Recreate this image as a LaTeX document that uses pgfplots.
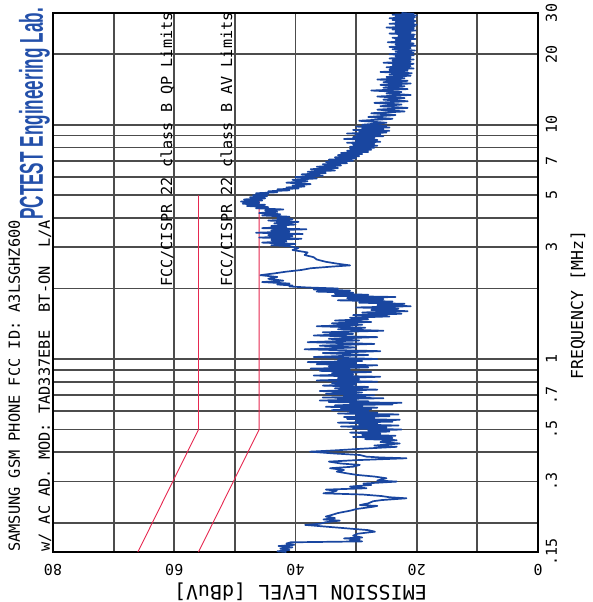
\documentclass[border=0pt]{standalone}
\usepackage{pgfplots}
\pgfplotsset{compat=1.18}
\usepackage{fontspec}
\setmainfont{DejaVu Sans Mono}
\newfontfamily\pcfont[FakeStretch=0.52]{Liberation Sans}
\definecolor{trace}{RGB}{25,70,160}
\definecolor{pcblue}{RGB}{35,80,170}
\definecolor{limred}{RGB}{230,40,80}
\pgfplotstableread{
f L
0.150 41.5
0.151 43.0
0.153 41.0
0.155 42.5
0.157 40.5
0.159 42.8
0.161 40.2
0.163 41.5
0.165 40.8
0.1665 29.0
0.168 31.0
0.170 29.4
0.1715 32.0
0.173 29.0
0.176 30.5
0.1795 29.8
0.1832 26.9
0.186 28.0
0.1958 38.4
0.198 36.0
0.2010 35.0
0.2042 32.7
0.2065 35.4
0.2094 33.5
0.2125 35.0
0.216 34.0
0.2200 33.0
0.2251 31.0
0.2290 29.9
0.2340 27.2
0.2360 26.5
0.2379 29.4
0.242 28.0
0.2470 27.2
0.2499 25.8
0.2543 21.7
0.2570 24.5
0.2600 25.8
0.2640 29.0
0.2670 35.4
0.2700 34.0
0.2742 33.2
0.2770 35.0
0.2807 28.3
0.2854 31.0
0.2900 27.5
0.2940 28.8
0.2997 23.3
0.303 26.5
0.3097 25.0
0.315 27.0
0.3201 29.9
0.325 31.5
0.3308 33.2
0.336 32.0
0.3418 34.3
0.347 30.5
0.3531 29.4
0.358 32.5
0.3648 34.5
0.370 30.0
0.3769 21.7
0.380 26.0
0.3830 28.3
0.3893 29.4
0.395 33.5
0.4022 37.6
0.408 33.0
0.414 29.0
0.4218 23.3
0.427 27.0
0.4358 22.8
0.442 26.0
0.4503 23.3
0.455 28.5
0.46 24.0
0.465 30.5
0.47 23.5
0.475 29.0
0.48 26.0
0.485 31.0
0.49 24.5
0.495 28.0
0.50 22.5
0.505 30.5
0.51 25.0
0.515 32.5
0.52 23.0
0.525 29.5
0.53 26.5
0.535 33.0
0.54 24.0
0.545 30.0
0.55 22.8
0.555 31.5
0.56 27.0
0.565 32.0
0.57 24.5
0.575 30.0
0.58 23.0
0.585 33.0
0.59 26.5
0.595 31.0
0.60 28.0
0.605 34.0
0.61 27.5
0.615 32.5
0.62 26.5
0.625 35.0
0.63 29.0
0.635 33.5
0.64 24.0
0.645 31.0
0.65 22.5
0.655 34.5
0.66 28.0
0.665 36.0
0.67 30.0
0.675 33.0
0.68 25.5
0.685 35.5
0.69 28.5
0.695 32.0
0.70 27.0
0.71 35.0
0.72 29.0
0.73 36.0
0.74 26.5
0.75 33.5
0.76 28.0
0.77 35.5
0.78 30.0
0.79 34.0
0.80 26.5
0.81 36.5
0.82 29.5
0.83 33.0
0.84 26.0
0.85 37.0
0.86 30.5
0.87 34.0
0.88 27.5
0.89 36.0
0.90 31.0
0.91 37.5
0.92 28.0
0.93 34.5
0.94 26.5
0.95 36.5
0.96 30.0
0.97 38.0
0.98 29.0
0.99 33.0
1.00 26.5
1.02 37.0
1.04 28.0
1.06 35.5
1.08 26.0
1.10 38.5
1.12 30.0
1.14 36.0
1.16 27.0
1.18 38.0
1.20 29.5
1.22 34.5
1.24 26.5
1.26 37.0
1.28 30.5
1.30 35.5
1.32 25.5
1.34 33.0
1.36 28.5
1.38 36.5
1.40 29.0
1.42 34.0
1.44 27.5
1.46 33.5
1.48 28.0
1.50 31.0
1.52 24.5
1.54 30.5
1.56 22.5
1.58 29.0
1.60 21.5
1.62 27.5
1.64 23.0
1.66 30.0
1.68 21.0
1.70 26.5
1.72 22.0
1.74 29.5
1.76 24.0
1.78 33.0
1.80 25.5
1.82 31.5
1.84 23.5
1.86 34.0
1.88 28.0
1.90 33.5
1.92 30.5
1.94 36.5
1.96 31.0
1.98 37.0
2.00 33.0
2.02 38.0
2.04 41.0
2.06 40.5
2.08 43.0
2.10 41.0
2.13 45.5
2.16 42.0
2.20 44.5
2.24 43.0
2.28 45.8
2.32 43.5
2.36 41.5
2.40 39.0
2.44 37.5
2.48 34.0
2.51 31.0
2.55 33.0
2.60 35.0
2.66 36.5
2.72 37.0
2.78 38.5
2.85 38.0
2.92 40.5
2.98 39.5
3.03 41.0
3.06 44.0
3.10 40.0
3.14 45.5
3.18 41.5
3.22 44.0
3.26 39.0
3.30 46.0
3.34 40.5
3.38 44.5
3.42 38.8
3.46 46.5
3.50 41.0
3.54 44.0
3.58 38.2
3.62 45.5
3.66 41.5
3.70 44.0
3.75 40.0
3.80 43.5
3.85 39.5
3.90 44.5
3.95 40.5
4.00 43.0
4.05 41.0
4.10 45.5
4.15 42.5
4.20 46.0
4.25 43.0
4.30 45.0
4.35 42.0
4.40 46.5
4.45 44.5
4.50 48.0
4.55 45.0
4.60 48.7
4.65 46.0
4.70 49.0
4.75 45.5
4.80 48.5
4.85 45.0
4.90 47.5
4.95 44.7
5.00 47.0
5.05 44.5
5.10 46.5
5.15 43.0
5.20 44.5
5.25 41.0
5.30 43.0
5.35 39.5
5.40 41.5
5.45 38.5
5.50 40.5
5.58 37.5
5.66 41.5
5.74 38.0
5.82 40.5
5.90 36.5
5.98 40.0
6.06 35.5
6.14 39.0
6.22 35.0
6.30 38.0
6.38 33.5
6.46 37.5
6.54 33.0
6.62 36.5
6.70 32.5
6.78 35.5
6.86 31.5
6.94 35.0
7.02 30.5
7.10 34.5
7.18 30.0
7.26 33.5
7.34 29.5
7.42 33.0
7.50 29.0
7.58 32.5
7.66 28.0
7.74 31.5
7.82 27.5
7.90 31.0
7.98 27.0
8.06 31.0
8.14 26.5
8.22 30.5
8.30 27.0
8.38 31.5
8.46 26.0
8.54 30.0
8.62 26.5
8.70 32.0
8.78 27.0
8.86 30.5
8.94 25.5
9.02 30.0
9.10 26.0
9.18 31.5
9.26 25.0
9.34 29.5
9.42 24.5
9.50 30.5
9.58 25.5
9.66 29.0
9.74 24.5
9.82 30.0
9.90 25.0
10.0 29.0
10.2 25.0
10.4 29.5
10.6 24.0
10.8 28.0
11.0 23.5
11.2 27.5
11.4 22.0
11.6 26.5
11.8 21.5
12.0 26.0
12.2 22.5
12.4 27.0
12.6 21.5
12.8 25.5
13.0 22.0
13.2 26.5
13.4 21.0
13.6 25.0
13.8 22.5
14.0 27.5
14.2 21.5
14.4 25.5
14.6 22.0
14.8 26.0
15.0 21.0
15.2 25.5
15.4 21.5
15.6 26.5
15.8 22.0
16.0 25.0
16.2 21.0
16.4 24.5
16.6 20.8
16.8 26.0
17.0 21.5
17.2 24.5
17.4 20.5
17.6 25.0
17.8 21.0
18.0 24.0
18.2 20.5
18.4 25.5
18.6 21.0
18.8 24.0
19.0 20.5
19.2 24.5
19.4 21.0
19.6 23.5
19.8 20.5
20.0 24.5
20.25 20.5
20.5 23.5
20.75 20.3
21.0 24.0
21.25 21.0
21.5 24.5
21.75 20.2
22.0 23.5
22.25 20.5
22.5 24.8
22.75 21.0
23.0 23.5
23.25 20.2
23.5 24.0
23.75 20.5
24.0 23.0
24.25 20.3
24.5 24.5
24.75 21.0
25.0 23.5
25.25 20.2
25.5 24.0
25.75 20.5
26.0 25.0
26.25 20.3
26.5 23.5
26.75 20.0
27.0 24.5
27.25 20.5
27.5 23.5
27.75 20.2
28.0 24.0
28.25 20.5
28.5 24.5
28.75 20.3
29.0 23.5
29.25 20.0
29.5 24.0
29.75 20.5
30.0 22.5
}\scan
\begin{document}
\begin{tikzpicture}
\begin{axis}[
  scale only axis, width=485pt, height=539pt,
  xmin=0, xmax=80, x dir=reverse,
  ymode=log, ymin=0.15, ymax=30,
  xtick={0,20,40,60,80}, xticklabels={0,20,40,60,80},
  minor xtick={10,30,50,70},
  ytick={0.15,0.3,0.5,0.7,1,3,5,7,10,20,30},
  yticklabels={.15,.3,.5,.7,1,3,5,7,10,20,30},
  minor ytick={0.2,0.4,0.6,0.8,0.9,2,4,6,8,9},
  grid=both,
  major grid style={black!70, line width=1.8pt},
  minor grid style={black!70, line width=1.8pt},
  axis line style={black, line width=1.6pt},
  major tick length=0pt, minor tick length=0pt,
  tick style={draw=none},
  xticklabel style={font=\fontsize{15}{15}\selectfont, yshift=-12pt, rotate=180, anchor=base, inner sep=0pt},
  yticklabel pos=right,
  yticklabel style={font=\fontsize{15}{15}\selectfont, xshift=19pt, rotate=90, anchor=base, inner sep=0pt},
]
\addplot[limred, line width=0.9pt] coordinates {(66,0.15) (56,0.5) (56,5)};
\addplot[limred, line width=0.9pt] coordinates {(56,0.15) (46,0.5) (46,5)};
\addplot[trace, line width=1.7pt, line join=round] table[x=L, y=f] {\scan};
\end{axis}
\begin{scope}[shift={(current axis.south west)}]
\node[rotate=90, anchor=base west, inner sep=0pt, font=\fontsize{15.3}{16}\selectfont] at (-33pt,0pt) {SAMSUNG GSM PHONE FCC ID: A3LSGHZ600};
\node[rotate=90, anchor=base west, inner sep=0pt, font=\fontsize{15.3}{16}\selectfont] at (-3pt,0pt) {w/ AC AD. MOD: TAD337EBE~~BT-ON~~L/A};
\node[rotate=90, anchor=base west, inner sep=0pt, text=pcblue, font=\pcfont\bfseries\fontsize{33}{34}\selectfont] at (-10pt,332pt) {PCTEST Engineering Lab.};
\node[rotate=90, anchor=base west, inner sep=0pt, font=\fontsize{15.2}{16}\selectfont] at (119pt,265pt) {FCC/CISPR 22 class B QP Limits};
\node[rotate=90, anchor=base west, inner sep=0pt, font=\fontsize{15.2}{16}\selectfont] at (179pt,265pt) {FCC/CISPR 22 class B AV Limits};
\node[rotate=90, anchor=base west, inner sep=0pt, font=\fontsize{16.5}{17}\selectfont] at (530pt,172pt) {FREQUENCY [MHz]};
\node[rotate=180, anchor=base west, inner sep=0pt, font=\fontsize{20}{21}\selectfont] at (374pt,-33pt) {EMISSION LEVEL [dBuV]};
\end{scope}
\path (current axis.south west) ++(-53pt,-50pt) rectangle ([shift={(54pt,13pt)}]current axis.north east);
\end{tikzpicture}
\end{document}
